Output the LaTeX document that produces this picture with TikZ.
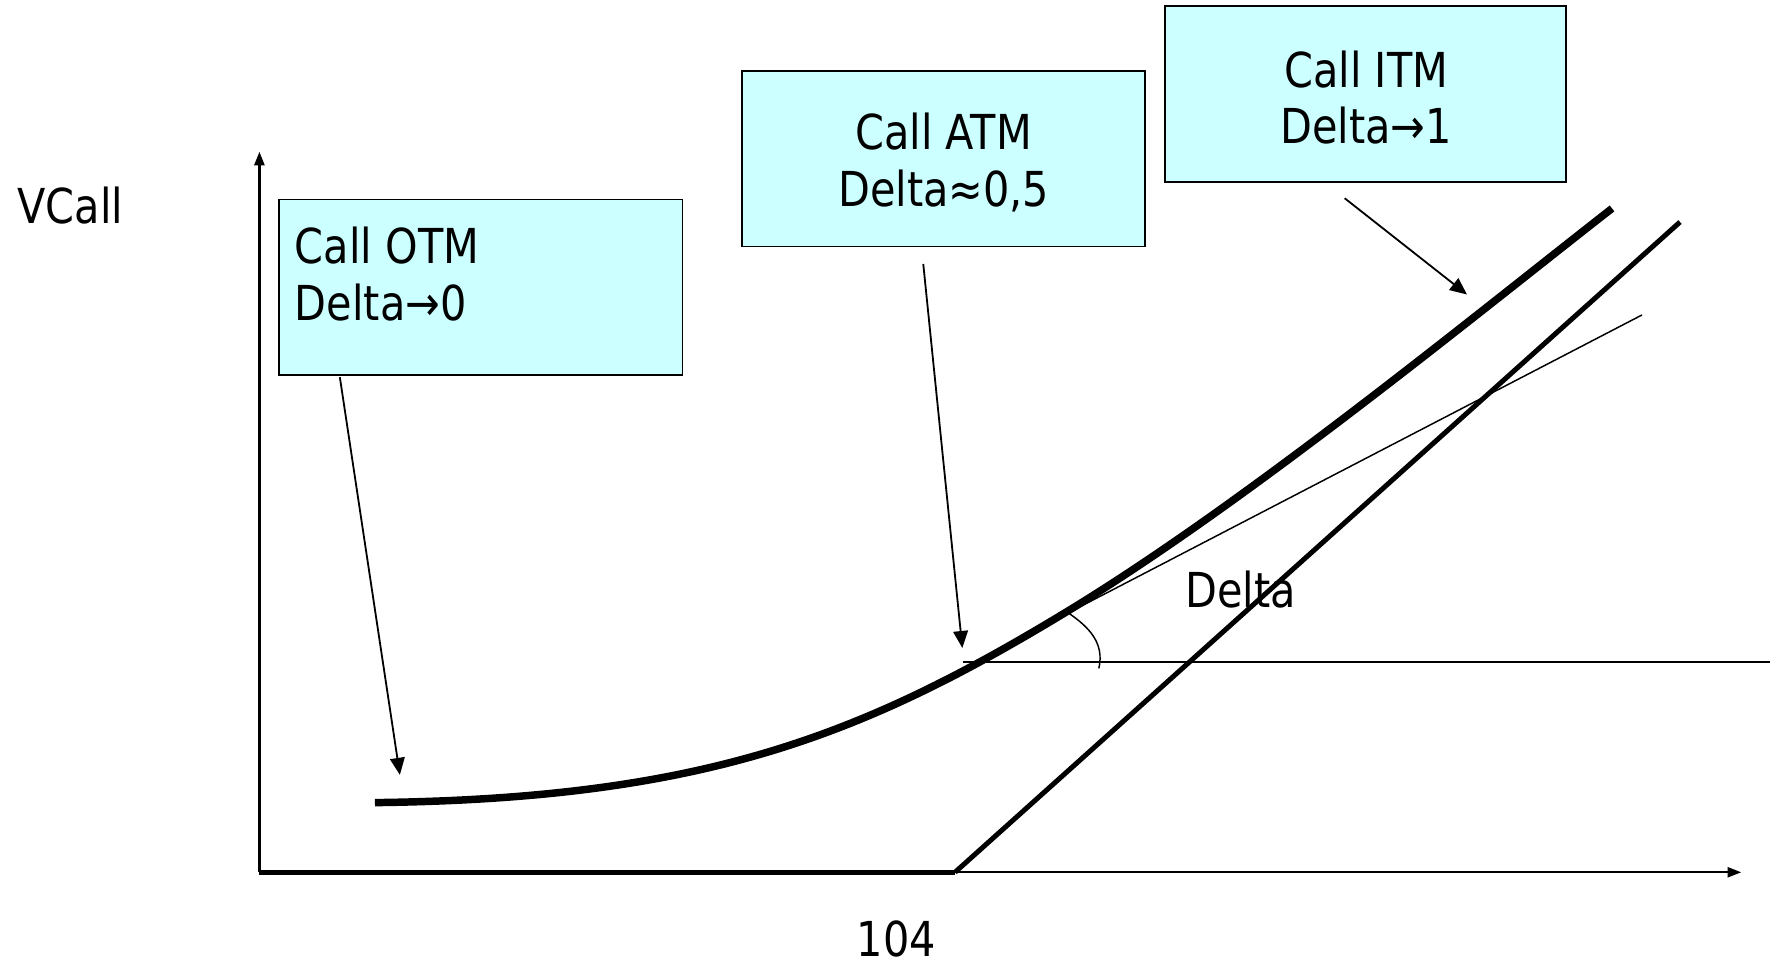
\documentclass[tikz,border=0pt]{standalone}
\usepackage{fontspec}
\setmainfont{DejaVu Sans}[FakeStretch=0.86]
\usetikzlibrary{arrows.meta,fit}
\definecolor{boxfill}{HTML}{CCFFFF}
\begin{document}
\begin{tikzpicture}[x=0.5pt,y=-0.5pt,
  lbl/.style={font=\fontsize{21.25}{25}\selectfont, inner sep=0pt, anchor=base west},
  clbl/.style={lbl, anchor=base},
  box/.style={draw=black, line width=0.75pt, fill=boxfill, rectangle, inner sep=0pt},
  axisline/.style={line width=1pt},
  thickaxis/.style={line width=2pt},
  payoff/.style={line width=2.2pt},
  callcurve/.style={line width=3.3pt},
  thinline/.style={line width=0.65pt},
  ptr/.style={line width=0.8pt, -{Triangle[length=7.5pt,width=6.5pt]}},
  axtip/.style={-{Triangle[length=6pt,width=4.5pt]}}]
\useasboundingbox (0,0) rectangle (1566,850.1);
% coordinates
\coordinate (origin) at (229,770);
\coordinate (ytip) at (229,134);
\coordinate (strike) at (843,770);
\coordinate (xtip) at (1537,770);
\coordinate (payEnd) at (1483,196);
\coordinate (tanA) at (943,541);
\coordinate (tanB) at (1449.5,278);
\coordinate (horA) at (850,584.4);
\coordinate (horB) at (1562,584.4);
\coordinate (otmTail) at (300,333);
\coordinate (otmTip) at (353,684);
\coordinate (atmTail) at (815,233);
\coordinate (atmTip) at (849.5,572);
\coordinate (itmTail) at (1187,175);
\coordinate (itmTip) at (1295,260);
% boxes
\node[box, fit={(246,176)(602.5,331)}] (otm) {};
\node[box, fit={(655,62.5)(1010.5,217.5)}] (atm) {};
\node[box, fit={(1028.5,5.5)(1382.5,160.5)}] (itm) {};
\node[lbl] (otm1) at (260,232.5) {Call OTM};
\node[lbl] (otm2) at (260,282.5) {Delta→0};
\node[clbl] (atm1) at (833,132) {Call ATM};
\node[clbl] (atm2) at (833,182.5) {Delta≈0,5};
\node[clbl] (itm1) at (1206,77) {Call ITM};
\node[clbl] (itm2) at (1206,127) {Delta→1};
% axes
\draw[axisline, axtip] (origin) -- (ytip);
\draw[thinline, line width=0.75pt, axtip] (strike) -- (xtip);
\draw[thickaxis] (origin) -- (strike);
% payoff
\draw[payoff] (strike) -- (payEnd);
% call value curve
\draw[callcurve] (331,708.5) .. controls (620,705) and (760,650) .. (940,541)
                 .. controls (1100,444) and (1300,280) .. (1423,184);
% tangent and horizontal
\draw[thinline] (tanA) -- (tanB);
\draw[thinline, line width=0.7pt] (horA) -- (horB);
\draw[thinline] (tanA) .. controls (962,554) and (975,568) .. (970,590);
% labels
\node[lbl] (vcall) at (15,197.5) {VCall};
\node[lbl] (k) at (756,844) {104};
\node[lbl] (delta) at (1046,536) {Delta};
% pointers
\draw[ptr] (otmTail) -- (otmTip);
\draw[ptr] (atmTail) -- (atmTip);
\draw[ptr] (itmTail) -- (itmTip);
\end{tikzpicture}
\end{document}
